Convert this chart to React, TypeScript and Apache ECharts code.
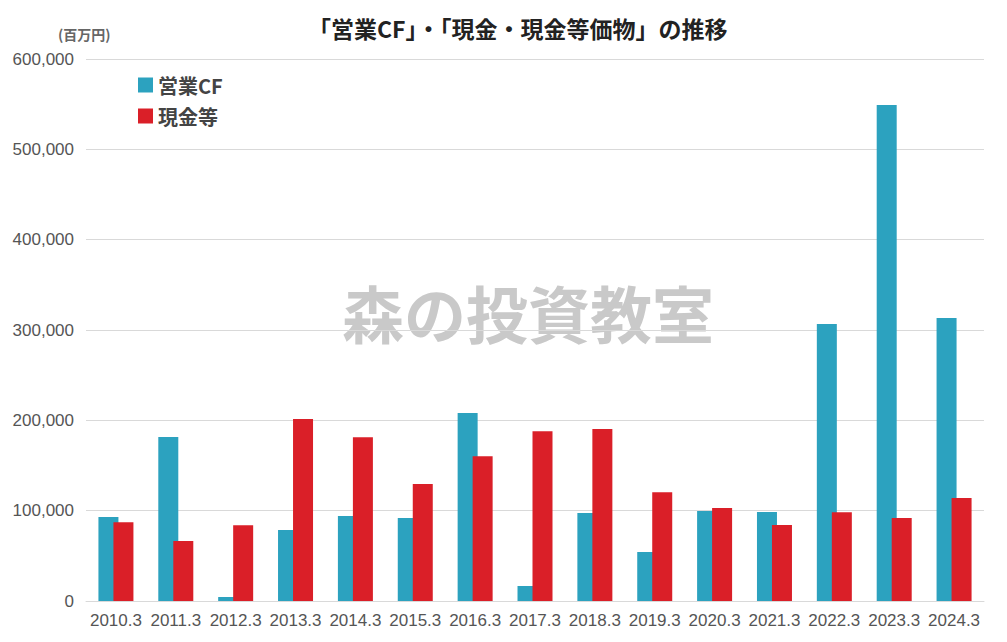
import React, { useEffect, useRef } from "react";
import * as echarts from "echarts";

const categories = ["2010.3", "2011.3", "2012.3", "2013.3", "2014.3", "2015.3", "2016.3", "2017.3", "2018.3", "2019.3", "2020.3", "2021.3", "2022.3", "2023.3", "2024.3"];
const operatingCF = [93000, 181500, 4400, 78600, 94100, 91900, 208100, 16600, 97400, 54200, 99600, 98500, 306700, 549100, 313300];
const cashEquivalents = [87100, 66400, 83800, 201500, 181200, 129500, 160200, 187800, 190400, 120300, 103000, 84100, 98200, 91900, 114000];
const yTicks = [0, 100000, 200000, 300000, 400000, 500000, 600000];

const FONT = "'Noto Sans CJK JP', 'Noto Sans', sans-serif";
const NUMFONT = "'Liberation Sans', Arial, sans-serif";

export default function App() {
  const ref = useRef<HTMLDivElement>(null);
  useEffect(() => {
    if (!ref.current) return;
    const chart = echarts.init(ref.current, null, { renderer: "svg" });
    chart.setOption({
      animation: false,
      backgroundColor: "#ffffff",
      textStyle: { fontFamily: FONT },
      title: {
        text: "「営業CF」・「現金・現金等価物」の推移",
        left: 303,
        top: 11,
        textStyle: { fontSize: 23, fontWeight: "bold", color: "#222", fontFamily: FONT },
      },
      legend: {
        orient: "vertical",
        left: 133,
        top: 70,
        itemWidth: 15,
        itemHeight: 15,
        itemGap: 11,
        icon: "rect",
        textStyle: { fontSize: 20, color: "#444", fontFamily: FONT, fontWeight: "bold" },
        data: ["営業CF", "現金等"],
      },
      graphic: [
        {
          type: "text",
          left: 58,
          top: 27,
          style: { text: "(百万円)", fill: "#666", font: `bold 14px ${FONT}` },
        },
        {
          type: "text",
          x: 528,
          y: 312,
          z: -10,
          style: {
            text: "森の投資教室",
            fill: "#c9c9c9",
            font: `bold 62px ${FONT}`,
            align: "center",
            verticalAlign: "middle",
          },
        },
      ],
      grid: { left: 86, right: 23, top: 59, bottom: 41, containLabel: false },
      xAxis: {
        type: "category",
        data: categories,
        axisTick: { show: false },
        axisLine: { lineStyle: { color: "#d9d9d9", width: 1 } },
        axisLabel: { fontSize: 17, color: "#555", margin: 11, interval: 0, fontFamily: NUMFONT },
      },
      yAxis: {
        type: "value",
        min: 0,
        max: 600000,
        interval: 100000,
        axisLine: { show: false },
        axisTick: { show: false },
        splitLine: { lineStyle: { color: "#d9d9d9", width: 1 } },
        axisLabel: {
          fontSize: 17,
          color: "#555",
          margin: 12,
          fontFamily: NUMFONT,
          formatter: (v: number) => v.toLocaleString("en-US"),
        },
      },
      series: [
        {
          name: "営業CF",
          type: "bar",
          data: operatingCF,
          barWidth: 20,
          barGap: "-25%",
          itemStyle: { color: "#2ca2bf" },
        },
        {
          name: "現金等",
          type: "bar",
          data: cashEquivalents,
          barWidth: 20,
          barGap: "-25%",
          itemStyle: { color: "#da1f28" },
        },
      ],
    });
    return () => chart.dispose();
  }, []);
  return <div ref={ref} style={{ position: "fixed", left: 0, top: 0, width: 1007, height: 642 }} />;
}
